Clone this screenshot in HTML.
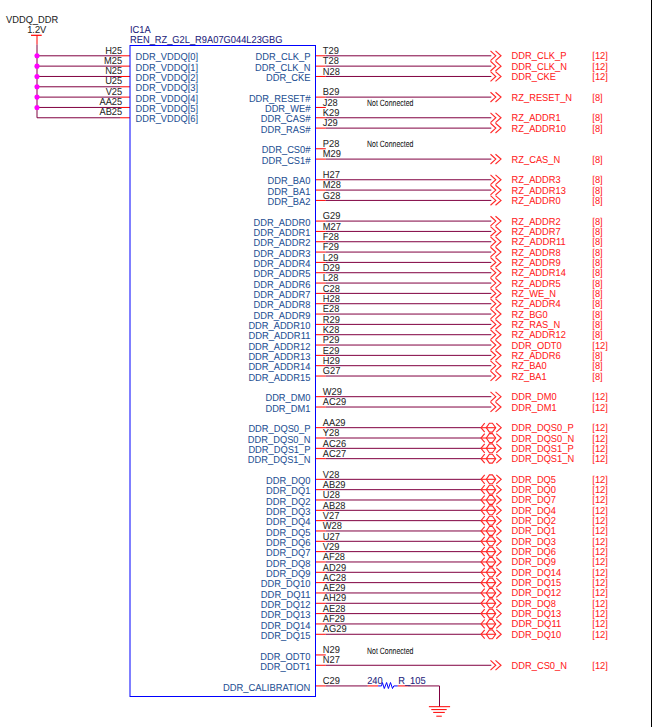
<!DOCTYPE html>
<html><head><meta charset="utf-8"><style>
html,body{margin:0;padding:0;background:#fff;width:652px;height:727px;overflow:hidden}
svg{display:block}
text{font-family:"Liberation Sans",sans-serif;text-rendering:geometricPrecision;stroke-width:0.05px}
.t{font-family:"Liberation Sans",sans-serif;font-size:9.3px}
.e{text-anchor:end}
.nc{font-family:"Liberation Sans",sans-serif;font-size:9.1px}
.pt{fill:none;stroke:#ff2a2a;stroke-width:1.15}
</style></head><body>
<svg width="652" height="727" viewBox="0 0 652 727">
<text x="6.00" y="22.60" font-size="10.1" fill="#222" stroke="#222" textLength="52.19" lengthAdjust="spacingAndGlyphs">VDDQ_DDR</text>
<text x="27.20" y="33.00" font-size="10.1" fill="#222" stroke="#222" textLength="19.13" lengthAdjust="spacingAndGlyphs">1.2V</text>
<text x="130.00" y="32.60" font-size="10.1" fill="#22227a" stroke="#22227a" textLength="20.68" lengthAdjust="spacingAndGlyphs">IC1A</text>
<text x="130.00" y="42.70" font-size="10.1" fill="#22227a" stroke="#22227a" textLength="152.50" lengthAdjust="spacingAndGlyphs">REN_RZ_G2L_R9A07G044L23GBG</text>
<line x1="31" y1="35.3" x2="41.7" y2="35.3" stroke="#ff0000" stroke-width="1.2"/>
<line x1="37.0" y1="35.3" x2="37.0" y2="44.5" stroke="#ff0000" stroke-width="1"/>
<line x1="37.0" y1="44.5" x2="37.0" y2="117.78" stroke="#800040" stroke-width="1"/>
<line x1="37.0" y1="55.80" x2="120" y2="55.80" stroke="#800040" stroke-width="1"/>
<line x1="120" y1="55.80" x2="130.0" y2="55.80" stroke="#ff0000" stroke-width="1"/>
<text x="122.20" y="53.50" font-size="10.1" fill="#262626" stroke="#262626" text-anchor="end" textLength="17.06" lengthAdjust="spacingAndGlyphs">H25</text>
<text x="135.50" y="60.30" font-size="10.1" fill="#1d4f93" stroke="#1d4f93" textLength="62.53" lengthAdjust="spacingAndGlyphs">DDR_VDDQ[0]</text>
<circle cx="37.0" cy="55.80" r="2.55" fill="#ff00ff"/>
<line x1="37.0" y1="66.13" x2="120" y2="66.13" stroke="#800040" stroke-width="1"/>
<line x1="120" y1="66.13" x2="130.0" y2="66.13" stroke="#ff0000" stroke-width="1"/>
<text x="122.20" y="63.83" font-size="10.1" fill="#262626" stroke="#262626" text-anchor="end" textLength="18.09" lengthAdjust="spacingAndGlyphs">M25</text>
<text x="135.50" y="70.63" font-size="10.1" fill="#1d4f93" stroke="#1d4f93" textLength="62.53" lengthAdjust="spacingAndGlyphs">DDR_VDDQ[1]</text>
<circle cx="37.0" cy="66.13" r="2.55" fill="#ff00ff"/>
<line x1="37.0" y1="76.46" x2="120" y2="76.46" stroke="#800040" stroke-width="1"/>
<line x1="120" y1="76.46" x2="130.0" y2="76.46" stroke="#ff0000" stroke-width="1"/>
<text x="122.20" y="74.16" font-size="10.1" fill="#262626" stroke="#262626" text-anchor="end" textLength="17.06" lengthAdjust="spacingAndGlyphs">N25</text>
<text x="135.50" y="80.96" font-size="10.1" fill="#1d4f93" stroke="#1d4f93" textLength="62.53" lengthAdjust="spacingAndGlyphs">DDR_VDDQ[2]</text>
<circle cx="37.0" cy="76.46" r="2.55" fill="#ff00ff"/>
<line x1="37.0" y1="86.79" x2="120" y2="86.79" stroke="#800040" stroke-width="1"/>
<line x1="120" y1="86.79" x2="130.0" y2="86.79" stroke="#ff0000" stroke-width="1"/>
<text x="122.20" y="84.49" font-size="10.1" fill="#262626" stroke="#262626" text-anchor="end" textLength="17.06" lengthAdjust="spacingAndGlyphs">U25</text>
<text x="135.50" y="91.29" font-size="10.1" fill="#1d4f93" stroke="#1d4f93" textLength="62.53" lengthAdjust="spacingAndGlyphs">DDR_VDDQ[3]</text>
<circle cx="37.0" cy="86.79" r="2.55" fill="#ff00ff"/>
<line x1="37.0" y1="97.12" x2="120" y2="97.12" stroke="#800040" stroke-width="1"/>
<line x1="120" y1="97.12" x2="130.0" y2="97.12" stroke="#ff0000" stroke-width="1"/>
<text x="122.20" y="94.82" font-size="10.1" fill="#262626" stroke="#262626" text-anchor="end" textLength="16.55" lengthAdjust="spacingAndGlyphs">V25</text>
<text x="135.50" y="101.62" font-size="10.1" fill="#1d4f93" stroke="#1d4f93" textLength="62.53" lengthAdjust="spacingAndGlyphs">DDR_VDDQ[4]</text>
<circle cx="37.0" cy="97.12" r="2.55" fill="#ff00ff"/>
<line x1="37.0" y1="107.45" x2="120" y2="107.45" stroke="#800040" stroke-width="1"/>
<line x1="120" y1="107.45" x2="130.0" y2="107.45" stroke="#ff0000" stroke-width="1"/>
<text x="122.20" y="105.15" font-size="10.1" fill="#262626" stroke="#262626" text-anchor="end" textLength="22.75" lengthAdjust="spacingAndGlyphs">AA25</text>
<text x="135.50" y="111.95" font-size="10.1" fill="#1d4f93" stroke="#1d4f93" textLength="62.53" lengthAdjust="spacingAndGlyphs">DDR_VDDQ[5]</text>
<circle cx="37.0" cy="107.45" r="2.55" fill="#ff00ff"/>
<line x1="37.0" y1="117.78" x2="120" y2="117.78" stroke="#800040" stroke-width="1"/>
<line x1="120" y1="117.78" x2="130.0" y2="117.78" stroke="#ff0000" stroke-width="1"/>
<text x="122.20" y="115.48" font-size="10.1" fill="#262626" stroke="#262626" text-anchor="end" textLength="22.75" lengthAdjust="spacingAndGlyphs">AB25</text>
<text x="135.50" y="122.28" font-size="10.1" fill="#1d4f93" stroke="#1d4f93" textLength="62.53" lengthAdjust="spacingAndGlyphs">DDR_VDDQ[6]</text>
<text x="310.40" y="60.40" font-size="10.1" fill="#1d4f93" stroke="#1d4f93" text-anchor="end" textLength="54.79" lengthAdjust="spacingAndGlyphs">DDR_CLK_P</text>
<text x="322.80" y="54.00" font-size="10.1" fill="#262626" stroke="#262626" textLength="16.03" lengthAdjust="spacingAndGlyphs">T29</text>
<line x1="315.5" y1="55.80" x2="325.8" y2="55.80" stroke="#ff0000" stroke-width="1"/>
<line x1="325.8" y1="55.80" x2="491.3" y2="55.80" stroke="#800040" stroke-width="1"/>
<polyline points="490.5,50.93 495.8,55.80 490.5,60.66" class="pt"/>
<polyline points="495.5,50.93 501,55.80 495.5,60.66" class="pt"/>
<text x="511.60" y="59.30" font-size="10.1" fill="#ff2020" stroke="#ff2020" textLength="54.79" lengthAdjust="spacingAndGlyphs">DDR_CLK_P</text>
<text x="592.30" y="59.30" font-size="10.1" fill="#ff2020" stroke="#ff2020" textLength="15.51" lengthAdjust="spacingAndGlyphs">[12]</text>
<text x="310.40" y="70.73" font-size="10.1" fill="#1d4f93" stroke="#1d4f93" text-anchor="end" textLength="55.30" lengthAdjust="spacingAndGlyphs">DDR_CLK_N</text>
<text x="322.80" y="64.33" font-size="10.1" fill="#262626" stroke="#262626" textLength="16.03" lengthAdjust="spacingAndGlyphs">T28</text>
<line x1="315.5" y1="66.13" x2="325.8" y2="66.13" stroke="#ff0000" stroke-width="1"/>
<line x1="325.8" y1="66.13" x2="491.3" y2="66.13" stroke="#800040" stroke-width="1"/>
<polyline points="490.5,61.26 495.8,66.13 490.5,71.00" class="pt"/>
<polyline points="495.5,61.26 501,66.13 495.5,71.00" class="pt"/>
<text x="511.60" y="69.63" font-size="10.1" fill="#ff2020" stroke="#ff2020" textLength="55.30" lengthAdjust="spacingAndGlyphs">DDR_CLK_N</text>
<text x="592.30" y="69.63" font-size="10.1" fill="#ff2020" stroke="#ff2020" textLength="15.51" lengthAdjust="spacingAndGlyphs">[12]</text>
<text x="310.40" y="81.06" font-size="10.1" fill="#1d4f93" stroke="#1d4f93" text-anchor="end" textLength="44.44" lengthAdjust="spacingAndGlyphs">DDR_CKE</text>
<text x="322.80" y="74.66" font-size="10.1" fill="#262626" stroke="#262626" textLength="17.06" lengthAdjust="spacingAndGlyphs">N28</text>
<line x1="315.5" y1="76.46" x2="325.8" y2="76.46" stroke="#ff0000" stroke-width="1"/>
<line x1="325.8" y1="76.46" x2="491.3" y2="76.46" stroke="#800040" stroke-width="1"/>
<polyline points="490.5,71.59 495.8,76.46 490.5,81.33" class="pt"/>
<polyline points="495.5,71.59 501,76.46 495.5,81.33" class="pt"/>
<text x="511.60" y="79.96" font-size="10.1" fill="#ff2020" stroke="#ff2020" textLength="44.44" lengthAdjust="spacingAndGlyphs">DDR_CKE</text>
<text x="592.30" y="79.96" font-size="10.1" fill="#ff2020" stroke="#ff2020" textLength="15.51" lengthAdjust="spacingAndGlyphs">[12]</text>
<text x="310.40" y="101.72" font-size="10.1" fill="#1d4f93" stroke="#1d4f93" text-anchor="end" textLength="61.50" lengthAdjust="spacingAndGlyphs">DDR_RESET#</text>
<text x="322.80" y="95.32" font-size="10.1" fill="#262626" stroke="#262626" textLength="16.55" lengthAdjust="spacingAndGlyphs">B29</text>
<line x1="315.5" y1="97.12" x2="325.8" y2="97.12" stroke="#ff0000" stroke-width="1"/>
<line x1="325.8" y1="97.12" x2="491.3" y2="97.12" stroke="#800040" stroke-width="1"/>
<polyline points="490.5,92.25 495.8,97.12 490.5,101.99" class="pt"/>
<polyline points="495.5,92.25 501,97.12 495.5,101.99" class="pt"/>
<text x="511.60" y="100.62" font-size="10.1" fill="#ff2020" stroke="#ff2020" textLength="60.46" lengthAdjust="spacingAndGlyphs">RZ_RESET_N</text>
<text x="592.30" y="100.62" font-size="10.1" fill="#ff2020" stroke="#ff2020" textLength="10.34" lengthAdjust="spacingAndGlyphs">[8]</text>
<text x="310.40" y="112.05" font-size="10.1" fill="#1d4f93" stroke="#1d4f93" text-anchor="end" textLength="45.47" lengthAdjust="spacingAndGlyphs">DDR_WE#</text>
<text x="322.80" y="105.65" font-size="10.1" fill="#262626" stroke="#262626" textLength="14.99" lengthAdjust="spacingAndGlyphs">J28</text>
<line x1="315.5" y1="107.45" x2="325.8" y2="107.45" stroke="#ff0000" stroke-width="1"/>
<text x="367.1" y="106.05" class="nc" fill="#111" stroke="#111" stroke-width="0.22" textLength="46.3" lengthAdjust="spacingAndGlyphs">Not Connected</text>
<text x="310.40" y="122.38" font-size="10.1" fill="#1d4f93" stroke="#1d4f93" text-anchor="end" textLength="49.62" lengthAdjust="spacingAndGlyphs">DDR_CAS#</text>
<text x="322.80" y="115.98" font-size="10.1" fill="#262626" stroke="#262626" textLength="16.55" lengthAdjust="spacingAndGlyphs">K29</text>
<line x1="315.5" y1="117.78" x2="325.8" y2="117.78" stroke="#ff0000" stroke-width="1"/>
<line x1="325.8" y1="117.78" x2="491.3" y2="117.78" stroke="#800040" stroke-width="1"/>
<polyline points="490.5,112.91 495.8,117.78 490.5,122.65" class="pt"/>
<polyline points="495.5,112.91 501,117.78 495.5,122.65" class="pt"/>
<text x="511.60" y="121.28" font-size="10.1" fill="#ff2020" stroke="#ff2020" textLength="49.09" lengthAdjust="spacingAndGlyphs">RZ_ADDR1</text>
<text x="592.30" y="121.28" font-size="10.1" fill="#ff2020" stroke="#ff2020" textLength="10.34" lengthAdjust="spacingAndGlyphs">[8]</text>
<text x="310.40" y="132.71" font-size="10.1" fill="#1d4f93" stroke="#1d4f93" text-anchor="end" textLength="49.62" lengthAdjust="spacingAndGlyphs">DDR_RAS#</text>
<text x="322.80" y="126.31" font-size="10.1" fill="#262626" stroke="#262626" textLength="14.99" lengthAdjust="spacingAndGlyphs">J29</text>
<line x1="315.5" y1="128.11" x2="325.8" y2="128.11" stroke="#ff0000" stroke-width="1"/>
<line x1="325.8" y1="128.11" x2="491.3" y2="128.11" stroke="#800040" stroke-width="1"/>
<polyline points="490.5,123.25 495.8,128.11 490.5,132.97" class="pt"/>
<polyline points="495.5,123.25 501,128.11 495.5,132.97" class="pt"/>
<text x="511.60" y="131.61" font-size="10.1" fill="#ff2020" stroke="#ff2020" textLength="54.27" lengthAdjust="spacingAndGlyphs">RZ_ADDR10</text>
<text x="592.30" y="131.61" font-size="10.1" fill="#ff2020" stroke="#ff2020" textLength="10.34" lengthAdjust="spacingAndGlyphs">[8]</text>
<text x="310.40" y="153.37" font-size="10.1" fill="#1d4f93" stroke="#1d4f93" text-anchor="end" textLength="48.58" lengthAdjust="spacingAndGlyphs">DDR_CS0#</text>
<text x="322.80" y="146.97" font-size="10.1" fill="#262626" stroke="#262626" textLength="16.55" lengthAdjust="spacingAndGlyphs">P28</text>
<line x1="315.5" y1="148.77" x2="325.8" y2="148.77" stroke="#ff0000" stroke-width="1"/>
<text x="367.1" y="147.37" class="nc" fill="#111" stroke="#111" stroke-width="0.22" textLength="46.3" lengthAdjust="spacingAndGlyphs">Not Connected</text>
<text x="310.40" y="163.70" font-size="10.1" fill="#1d4f93" stroke="#1d4f93" text-anchor="end" textLength="48.58" lengthAdjust="spacingAndGlyphs">DDR_CS1#</text>
<text x="322.80" y="157.30" font-size="10.1" fill="#262626" stroke="#262626" textLength="18.09" lengthAdjust="spacingAndGlyphs">M29</text>
<line x1="315.5" y1="159.10" x2="325.8" y2="159.10" stroke="#ff0000" stroke-width="1"/>
<line x1="325.8" y1="159.10" x2="491.3" y2="159.10" stroke="#800040" stroke-width="1"/>
<polyline points="490.5,154.24 495.8,159.10 490.5,163.96" class="pt"/>
<polyline points="495.5,154.24 501,159.10 495.5,163.96" class="pt"/>
<text x="511.60" y="162.60" font-size="10.1" fill="#ff2020" stroke="#ff2020" textLength="48.58" lengthAdjust="spacingAndGlyphs">RZ_CAS_N</text>
<text x="592.30" y="162.60" font-size="10.1" fill="#ff2020" stroke="#ff2020" textLength="10.34" lengthAdjust="spacingAndGlyphs">[8]</text>
<text x="310.40" y="184.36" font-size="10.1" fill="#1d4f93" stroke="#1d4f93" text-anchor="end" textLength="42.90" lengthAdjust="spacingAndGlyphs">DDR_BA0</text>
<text x="322.80" y="177.96" font-size="10.1" fill="#262626" stroke="#262626" textLength="17.06" lengthAdjust="spacingAndGlyphs">H27</text>
<line x1="315.5" y1="179.76" x2="325.8" y2="179.76" stroke="#ff0000" stroke-width="1"/>
<line x1="325.8" y1="179.76" x2="491.3" y2="179.76" stroke="#800040" stroke-width="1"/>
<polyline points="490.5,174.90 495.8,179.76 490.5,184.62" class="pt"/>
<polyline points="495.5,174.90 501,179.76 495.5,184.62" class="pt"/>
<text x="511.60" y="183.26" font-size="10.1" fill="#ff2020" stroke="#ff2020" textLength="49.09" lengthAdjust="spacingAndGlyphs">RZ_ADDR3</text>
<text x="592.30" y="183.26" font-size="10.1" fill="#ff2020" stroke="#ff2020" textLength="10.34" lengthAdjust="spacingAndGlyphs">[8]</text>
<text x="310.40" y="194.69" font-size="10.1" fill="#1d4f93" stroke="#1d4f93" text-anchor="end" textLength="42.90" lengthAdjust="spacingAndGlyphs">DDR_BA1</text>
<text x="322.80" y="188.29" font-size="10.1" fill="#262626" stroke="#262626" textLength="18.09" lengthAdjust="spacingAndGlyphs">M28</text>
<line x1="315.5" y1="190.09" x2="325.8" y2="190.09" stroke="#ff0000" stroke-width="1"/>
<line x1="325.8" y1="190.09" x2="491.3" y2="190.09" stroke="#800040" stroke-width="1"/>
<polyline points="490.5,185.22 495.8,190.09 490.5,194.95" class="pt"/>
<polyline points="495.5,185.22 501,190.09 495.5,194.95" class="pt"/>
<text x="511.60" y="193.59" font-size="10.1" fill="#ff2020" stroke="#ff2020" textLength="54.27" lengthAdjust="spacingAndGlyphs">RZ_ADDR13</text>
<text x="592.30" y="193.59" font-size="10.1" fill="#ff2020" stroke="#ff2020" textLength="10.34" lengthAdjust="spacingAndGlyphs">[8]</text>
<text x="310.40" y="205.02" font-size="10.1" fill="#1d4f93" stroke="#1d4f93" text-anchor="end" textLength="42.90" lengthAdjust="spacingAndGlyphs">DDR_BA2</text>
<text x="322.80" y="198.62" font-size="10.1" fill="#262626" stroke="#262626" textLength="17.58" lengthAdjust="spacingAndGlyphs">G28</text>
<line x1="315.5" y1="200.42" x2="325.8" y2="200.42" stroke="#ff0000" stroke-width="1"/>
<line x1="325.8" y1="200.42" x2="491.3" y2="200.42" stroke="#800040" stroke-width="1"/>
<polyline points="490.5,195.56 495.8,200.42 490.5,205.28" class="pt"/>
<polyline points="495.5,195.56 501,200.42 495.5,205.28" class="pt"/>
<text x="511.60" y="203.92" font-size="10.1" fill="#ff2020" stroke="#ff2020" textLength="49.09" lengthAdjust="spacingAndGlyphs">RZ_ADDR0</text>
<text x="592.30" y="203.92" font-size="10.1" fill="#ff2020" stroke="#ff2020" textLength="10.34" lengthAdjust="spacingAndGlyphs">[8]</text>
<text x="310.40" y="225.68" font-size="10.1" fill="#1d4f93" stroke="#1d4f93" text-anchor="end" textLength="56.84" lengthAdjust="spacingAndGlyphs">DDR_ADDR0</text>
<text x="322.80" y="219.28" font-size="10.1" fill="#262626" stroke="#262626" textLength="17.58" lengthAdjust="spacingAndGlyphs">G29</text>
<line x1="315.5" y1="221.08" x2="325.8" y2="221.08" stroke="#ff0000" stroke-width="1"/>
<line x1="325.8" y1="221.08" x2="491.3" y2="221.08" stroke="#800040" stroke-width="1"/>
<polyline points="490.5,216.22 495.8,221.08 490.5,225.94" class="pt"/>
<polyline points="495.5,216.22 501,221.08 495.5,225.94" class="pt"/>
<text x="511.60" y="224.58" font-size="10.1" fill="#ff2020" stroke="#ff2020" textLength="49.09" lengthAdjust="spacingAndGlyphs">RZ_ADDR2</text>
<text x="592.30" y="224.58" font-size="10.1" fill="#ff2020" stroke="#ff2020" textLength="10.34" lengthAdjust="spacingAndGlyphs">[8]</text>
<text x="310.40" y="236.01" font-size="10.1" fill="#1d4f93" stroke="#1d4f93" text-anchor="end" textLength="56.84" lengthAdjust="spacingAndGlyphs">DDR_ADDR1</text>
<text x="322.80" y="229.61" font-size="10.1" fill="#262626" stroke="#262626" textLength="18.09" lengthAdjust="spacingAndGlyphs">M27</text>
<line x1="315.5" y1="231.41" x2="325.8" y2="231.41" stroke="#ff0000" stroke-width="1"/>
<line x1="325.8" y1="231.41" x2="491.3" y2="231.41" stroke="#800040" stroke-width="1"/>
<polyline points="490.5,226.55 495.8,231.41 490.5,236.28" class="pt"/>
<polyline points="495.5,226.55 501,231.41 495.5,236.28" class="pt"/>
<text x="511.60" y="234.91" font-size="10.1" fill="#ff2020" stroke="#ff2020" textLength="49.09" lengthAdjust="spacingAndGlyphs">RZ_ADDR7</text>
<text x="592.30" y="234.91" font-size="10.1" fill="#ff2020" stroke="#ff2020" textLength="10.34" lengthAdjust="spacingAndGlyphs">[8]</text>
<text x="310.40" y="246.34" font-size="10.1" fill="#1d4f93" stroke="#1d4f93" text-anchor="end" textLength="56.84" lengthAdjust="spacingAndGlyphs">DDR_ADDR2</text>
<text x="322.80" y="239.94" font-size="10.1" fill="#262626" stroke="#262626" textLength="16.03" lengthAdjust="spacingAndGlyphs">F28</text>
<line x1="315.5" y1="241.74" x2="325.8" y2="241.74" stroke="#ff0000" stroke-width="1"/>
<line x1="325.8" y1="241.74" x2="491.3" y2="241.74" stroke="#800040" stroke-width="1"/>
<polyline points="490.5,236.88 495.8,241.74 490.5,246.60" class="pt"/>
<polyline points="495.5,236.88 501,241.74 495.5,246.60" class="pt"/>
<text x="511.60" y="245.24" font-size="10.1" fill="#ff2020" stroke="#ff2020" textLength="54.27" lengthAdjust="spacingAndGlyphs">RZ_ADDR11</text>
<text x="592.30" y="245.24" font-size="10.1" fill="#ff2020" stroke="#ff2020" textLength="10.34" lengthAdjust="spacingAndGlyphs">[8]</text>
<text x="310.40" y="256.67" font-size="10.1" fill="#1d4f93" stroke="#1d4f93" text-anchor="end" textLength="56.84" lengthAdjust="spacingAndGlyphs">DDR_ADDR3</text>
<text x="322.80" y="250.27" font-size="10.1" fill="#262626" stroke="#262626" textLength="16.03" lengthAdjust="spacingAndGlyphs">F29</text>
<line x1="315.5" y1="252.07" x2="325.8" y2="252.07" stroke="#ff0000" stroke-width="1"/>
<line x1="325.8" y1="252.07" x2="491.3" y2="252.07" stroke="#800040" stroke-width="1"/>
<polyline points="490.5,247.21 495.8,252.07 490.5,256.94" class="pt"/>
<polyline points="495.5,247.21 501,252.07 495.5,256.94" class="pt"/>
<text x="511.60" y="255.57" font-size="10.1" fill="#ff2020" stroke="#ff2020" textLength="49.09" lengthAdjust="spacingAndGlyphs">RZ_ADDR8</text>
<text x="592.30" y="255.57" font-size="10.1" fill="#ff2020" stroke="#ff2020" textLength="10.34" lengthAdjust="spacingAndGlyphs">[8]</text>
<text x="310.40" y="267.00" font-size="10.1" fill="#1d4f93" stroke="#1d4f93" text-anchor="end" textLength="56.84" lengthAdjust="spacingAndGlyphs">DDR_ADDR4</text>
<text x="322.80" y="260.60" font-size="10.1" fill="#262626" stroke="#262626" textLength="15.52" lengthAdjust="spacingAndGlyphs">L29</text>
<line x1="315.5" y1="262.40" x2="325.8" y2="262.40" stroke="#ff0000" stroke-width="1"/>
<line x1="325.8" y1="262.40" x2="491.3" y2="262.40" stroke="#800040" stroke-width="1"/>
<polyline points="490.5,257.53 495.8,262.40 490.5,267.26" class="pt"/>
<polyline points="495.5,257.53 501,262.40 495.5,267.26" class="pt"/>
<text x="511.60" y="265.90" font-size="10.1" fill="#ff2020" stroke="#ff2020" textLength="49.09" lengthAdjust="spacingAndGlyphs">RZ_ADDR9</text>
<text x="592.30" y="265.90" font-size="10.1" fill="#ff2020" stroke="#ff2020" textLength="10.34" lengthAdjust="spacingAndGlyphs">[8]</text>
<text x="310.40" y="277.33" font-size="10.1" fill="#1d4f93" stroke="#1d4f93" text-anchor="end" textLength="56.84" lengthAdjust="spacingAndGlyphs">DDR_ADDR5</text>
<text x="322.80" y="270.93" font-size="10.1" fill="#262626" stroke="#262626" textLength="17.06" lengthAdjust="spacingAndGlyphs">D29</text>
<line x1="315.5" y1="272.73" x2="325.8" y2="272.73" stroke="#ff0000" stroke-width="1"/>
<line x1="325.8" y1="272.73" x2="491.3" y2="272.73" stroke="#800040" stroke-width="1"/>
<polyline points="490.5,267.87 495.8,272.73 490.5,277.60" class="pt"/>
<polyline points="495.5,267.87 501,272.73 495.5,277.60" class="pt"/>
<text x="511.60" y="276.23" font-size="10.1" fill="#ff2020" stroke="#ff2020" textLength="54.27" lengthAdjust="spacingAndGlyphs">RZ_ADDR14</text>
<text x="592.30" y="276.23" font-size="10.1" fill="#ff2020" stroke="#ff2020" textLength="10.34" lengthAdjust="spacingAndGlyphs">[8]</text>
<text x="310.40" y="287.66" font-size="10.1" fill="#1d4f93" stroke="#1d4f93" text-anchor="end" textLength="56.84" lengthAdjust="spacingAndGlyphs">DDR_ADDR6</text>
<text x="322.80" y="281.26" font-size="10.1" fill="#262626" stroke="#262626" textLength="15.52" lengthAdjust="spacingAndGlyphs">L28</text>
<line x1="315.5" y1="283.06" x2="325.8" y2="283.06" stroke="#ff0000" stroke-width="1"/>
<line x1="325.8" y1="283.06" x2="491.3" y2="283.06" stroke="#800040" stroke-width="1"/>
<polyline points="490.5,278.19 495.8,283.06 490.5,287.93" class="pt"/>
<polyline points="495.5,278.19 501,283.06 495.5,287.93" class="pt"/>
<text x="511.60" y="286.56" font-size="10.1" fill="#ff2020" stroke="#ff2020" textLength="49.09" lengthAdjust="spacingAndGlyphs">RZ_ADDR5</text>
<text x="592.30" y="286.56" font-size="10.1" fill="#ff2020" stroke="#ff2020" textLength="10.34" lengthAdjust="spacingAndGlyphs">[8]</text>
<text x="310.40" y="297.99" font-size="10.1" fill="#1d4f93" stroke="#1d4f93" text-anchor="end" textLength="56.84" lengthAdjust="spacingAndGlyphs">DDR_ADDR7</text>
<text x="322.80" y="291.59" font-size="10.1" fill="#262626" stroke="#262626" textLength="17.06" lengthAdjust="spacingAndGlyphs">C28</text>
<line x1="315.5" y1="293.39" x2="325.8" y2="293.39" stroke="#ff0000" stroke-width="1"/>
<line x1="325.8" y1="293.39" x2="491.3" y2="293.39" stroke="#800040" stroke-width="1"/>
<polyline points="490.5,288.52 495.8,293.39 490.5,298.25" class="pt"/>
<polyline points="495.5,288.52 501,293.39 495.5,298.25" class="pt"/>
<text x="511.60" y="296.89" font-size="10.1" fill="#ff2020" stroke="#ff2020" textLength="44.44" lengthAdjust="spacingAndGlyphs">RZ_WE_N</text>
<text x="592.30" y="296.89" font-size="10.1" fill="#ff2020" stroke="#ff2020" textLength="10.34" lengthAdjust="spacingAndGlyphs">[8]</text>
<text x="310.40" y="308.32" font-size="10.1" fill="#1d4f93" stroke="#1d4f93" text-anchor="end" textLength="56.84" lengthAdjust="spacingAndGlyphs">DDR_ADDR8</text>
<text x="322.80" y="301.92" font-size="10.1" fill="#262626" stroke="#262626" textLength="17.06" lengthAdjust="spacingAndGlyphs">H28</text>
<line x1="315.5" y1="303.72" x2="325.8" y2="303.72" stroke="#ff0000" stroke-width="1"/>
<line x1="325.8" y1="303.72" x2="491.3" y2="303.72" stroke="#800040" stroke-width="1"/>
<polyline points="490.5,298.86 495.8,303.72 490.5,308.59" class="pt"/>
<polyline points="495.5,298.86 501,303.72 495.5,308.59" class="pt"/>
<text x="511.60" y="307.22" font-size="10.1" fill="#ff2020" stroke="#ff2020" textLength="49.09" lengthAdjust="spacingAndGlyphs">RZ_ADDR4</text>
<text x="592.30" y="307.22" font-size="10.1" fill="#ff2020" stroke="#ff2020" textLength="10.34" lengthAdjust="spacingAndGlyphs">[8]</text>
<text x="310.40" y="318.65" font-size="10.1" fill="#1d4f93" stroke="#1d4f93" text-anchor="end" textLength="56.84" lengthAdjust="spacingAndGlyphs">DDR_ADDR9</text>
<text x="322.80" y="312.25" font-size="10.1" fill="#262626" stroke="#262626" textLength="16.55" lengthAdjust="spacingAndGlyphs">E28</text>
<line x1="315.5" y1="314.05" x2="325.8" y2="314.05" stroke="#ff0000" stroke-width="1"/>
<line x1="325.8" y1="314.05" x2="491.3" y2="314.05" stroke="#800040" stroke-width="1"/>
<polyline points="490.5,309.19 495.8,314.05 490.5,318.92" class="pt"/>
<polyline points="495.5,309.19 501,314.05 495.5,318.92" class="pt"/>
<text x="511.60" y="317.55" font-size="10.1" fill="#ff2020" stroke="#ff2020" textLength="36.18" lengthAdjust="spacingAndGlyphs">RZ_BG0</text>
<text x="592.30" y="317.55" font-size="10.1" fill="#ff2020" stroke="#ff2020" textLength="10.34" lengthAdjust="spacingAndGlyphs">[8]</text>
<text x="310.40" y="328.98" font-size="10.1" fill="#1d4f93" stroke="#1d4f93" text-anchor="end" textLength="62.02" lengthAdjust="spacingAndGlyphs">DDR_ADDR10</text>
<text x="322.80" y="322.58" font-size="10.1" fill="#262626" stroke="#262626" textLength="17.06" lengthAdjust="spacingAndGlyphs">R29</text>
<line x1="315.5" y1="324.38" x2="325.8" y2="324.38" stroke="#ff0000" stroke-width="1"/>
<line x1="325.8" y1="324.38" x2="491.3" y2="324.38" stroke="#800040" stroke-width="1"/>
<polyline points="490.5,319.51 495.8,324.38 490.5,329.25" class="pt"/>
<polyline points="495.5,319.51 501,324.38 495.5,329.25" class="pt"/>
<text x="511.60" y="327.88" font-size="10.1" fill="#ff2020" stroke="#ff2020" textLength="48.58" lengthAdjust="spacingAndGlyphs">RZ_RAS_N</text>
<text x="592.30" y="327.88" font-size="10.1" fill="#ff2020" stroke="#ff2020" textLength="10.34" lengthAdjust="spacingAndGlyphs">[8]</text>
<text x="310.40" y="339.31" font-size="10.1" fill="#1d4f93" stroke="#1d4f93" text-anchor="end" textLength="62.02" lengthAdjust="spacingAndGlyphs">DDR_ADDR11</text>
<text x="322.80" y="332.91" font-size="10.1" fill="#262626" stroke="#262626" textLength="16.55" lengthAdjust="spacingAndGlyphs">K28</text>
<line x1="315.5" y1="334.71" x2="325.8" y2="334.71" stroke="#ff0000" stroke-width="1"/>
<line x1="325.8" y1="334.71" x2="491.3" y2="334.71" stroke="#800040" stroke-width="1"/>
<polyline points="490.5,329.85 495.8,334.71 490.5,339.58" class="pt"/>
<polyline points="495.5,329.85 501,334.71 495.5,339.58" class="pt"/>
<text x="511.60" y="338.21" font-size="10.1" fill="#ff2020" stroke="#ff2020" textLength="54.27" lengthAdjust="spacingAndGlyphs">RZ_ADDR12</text>
<text x="592.30" y="338.21" font-size="10.1" fill="#ff2020" stroke="#ff2020" textLength="10.34" lengthAdjust="spacingAndGlyphs">[8]</text>
<text x="310.40" y="349.64" font-size="10.1" fill="#1d4f93" stroke="#1d4f93" text-anchor="end" textLength="62.02" lengthAdjust="spacingAndGlyphs">DDR_ADDR12</text>
<text x="322.80" y="343.24" font-size="10.1" fill="#262626" stroke="#262626" textLength="16.55" lengthAdjust="spacingAndGlyphs">P29</text>
<line x1="315.5" y1="345.04" x2="325.8" y2="345.04" stroke="#ff0000" stroke-width="1"/>
<line x1="325.8" y1="345.04" x2="491.3" y2="345.04" stroke="#800040" stroke-width="1"/>
<polyline points="490.5,340.18 495.8,345.04 490.5,349.91" class="pt"/>
<polyline points="495.5,340.18 501,345.04 495.5,349.91" class="pt"/>
<text x="511.60" y="348.54" font-size="10.1" fill="#ff2020" stroke="#ff2020" textLength="50.12" lengthAdjust="spacingAndGlyphs">DDR_ODT0</text>
<text x="592.30" y="348.54" font-size="10.1" fill="#ff2020" stroke="#ff2020" textLength="15.51" lengthAdjust="spacingAndGlyphs">[12]</text>
<text x="310.40" y="359.97" font-size="10.1" fill="#1d4f93" stroke="#1d4f93" text-anchor="end" textLength="62.02" lengthAdjust="spacingAndGlyphs">DDR_ADDR13</text>
<text x="322.80" y="353.57" font-size="10.1" fill="#262626" stroke="#262626" textLength="16.55" lengthAdjust="spacingAndGlyphs">E29</text>
<line x1="315.5" y1="355.37" x2="325.8" y2="355.37" stroke="#ff0000" stroke-width="1"/>
<line x1="325.8" y1="355.37" x2="491.3" y2="355.37" stroke="#800040" stroke-width="1"/>
<polyline points="490.5,350.50 495.8,355.37 490.5,360.24" class="pt"/>
<polyline points="495.5,350.50 501,355.37 495.5,360.24" class="pt"/>
<text x="511.60" y="358.87" font-size="10.1" fill="#ff2020" stroke="#ff2020" textLength="49.09" lengthAdjust="spacingAndGlyphs">RZ_ADDR6</text>
<text x="592.30" y="358.87" font-size="10.1" fill="#ff2020" stroke="#ff2020" textLength="10.34" lengthAdjust="spacingAndGlyphs">[8]</text>
<text x="310.40" y="370.30" font-size="10.1" fill="#1d4f93" stroke="#1d4f93" text-anchor="end" textLength="62.02" lengthAdjust="spacingAndGlyphs">DDR_ADDR14</text>
<text x="322.80" y="363.90" font-size="10.1" fill="#262626" stroke="#262626" textLength="17.06" lengthAdjust="spacingAndGlyphs">H29</text>
<line x1="315.5" y1="365.70" x2="325.8" y2="365.70" stroke="#ff0000" stroke-width="1"/>
<line x1="325.8" y1="365.70" x2="491.3" y2="365.70" stroke="#800040" stroke-width="1"/>
<polyline points="490.5,360.83 495.8,365.70 490.5,370.56" class="pt"/>
<polyline points="495.5,360.83 501,365.70 495.5,370.56" class="pt"/>
<text x="511.60" y="369.20" font-size="10.1" fill="#ff2020" stroke="#ff2020" textLength="35.15" lengthAdjust="spacingAndGlyphs">RZ_BA0</text>
<text x="592.30" y="369.20" font-size="10.1" fill="#ff2020" stroke="#ff2020" textLength="10.34" lengthAdjust="spacingAndGlyphs">[8]</text>
<text x="310.40" y="380.63" font-size="10.1" fill="#1d4f93" stroke="#1d4f93" text-anchor="end" textLength="62.02" lengthAdjust="spacingAndGlyphs">DDR_ADDR15</text>
<text x="322.80" y="374.23" font-size="10.1" fill="#262626" stroke="#262626" textLength="17.58" lengthAdjust="spacingAndGlyphs">G27</text>
<line x1="315.5" y1="376.03" x2="325.8" y2="376.03" stroke="#ff0000" stroke-width="1"/>
<line x1="325.8" y1="376.03" x2="491.3" y2="376.03" stroke="#800040" stroke-width="1"/>
<polyline points="490.5,371.17 495.8,376.03 490.5,380.90" class="pt"/>
<polyline points="495.5,371.17 501,376.03 495.5,380.90" class="pt"/>
<text x="511.60" y="379.53" font-size="10.1" fill="#ff2020" stroke="#ff2020" textLength="35.15" lengthAdjust="spacingAndGlyphs">RZ_BA1</text>
<text x="592.30" y="379.53" font-size="10.1" fill="#ff2020" stroke="#ff2020" textLength="10.34" lengthAdjust="spacingAndGlyphs">[8]</text>
<text x="310.40" y="401.29" font-size="10.1" fill="#1d4f93" stroke="#1d4f93" text-anchor="end" textLength="44.96" lengthAdjust="spacingAndGlyphs">DDR_DM0</text>
<text x="322.80" y="394.89" font-size="10.1" fill="#262626" stroke="#262626" textLength="19.12" lengthAdjust="spacingAndGlyphs">W29</text>
<line x1="315.5" y1="396.69" x2="325.8" y2="396.69" stroke="#ff0000" stroke-width="1"/>
<line x1="325.8" y1="396.69" x2="491.3" y2="396.69" stroke="#800040" stroke-width="1"/>
<polyline points="490.5,391.82 495.8,396.69 490.5,401.56" class="pt"/>
<polyline points="495.5,391.82 501,396.69 495.5,401.56" class="pt"/>
<text x="511.60" y="400.19" font-size="10.1" fill="#ff2020" stroke="#ff2020" textLength="44.96" lengthAdjust="spacingAndGlyphs">DDR_DM0</text>
<text x="592.30" y="400.19" font-size="10.1" fill="#ff2020" stroke="#ff2020" textLength="15.51" lengthAdjust="spacingAndGlyphs">[12]</text>
<text x="310.40" y="411.62" font-size="10.1" fill="#1d4f93" stroke="#1d4f93" text-anchor="end" textLength="44.96" lengthAdjust="spacingAndGlyphs">DDR_DM1</text>
<text x="322.80" y="405.22" font-size="10.1" fill="#262626" stroke="#262626" textLength="23.26" lengthAdjust="spacingAndGlyphs">AC29</text>
<line x1="315.5" y1="407.02" x2="325.8" y2="407.02" stroke="#ff0000" stroke-width="1"/>
<line x1="325.8" y1="407.02" x2="491.3" y2="407.02" stroke="#800040" stroke-width="1"/>
<polyline points="490.5,402.16 495.8,407.02 490.5,411.89" class="pt"/>
<polyline points="495.5,402.16 501,407.02 495.5,411.89" class="pt"/>
<text x="511.60" y="410.52" font-size="10.1" fill="#ff2020" stroke="#ff2020" textLength="44.96" lengthAdjust="spacingAndGlyphs">DDR_DM1</text>
<text x="592.30" y="410.52" font-size="10.1" fill="#ff2020" stroke="#ff2020" textLength="15.51" lengthAdjust="spacingAndGlyphs">[12]</text>
<text x="310.40" y="432.28" font-size="10.1" fill="#1d4f93" stroke="#1d4f93" text-anchor="end" textLength="62.02" lengthAdjust="spacingAndGlyphs">DDR_DQS0_P</text>
<text x="322.80" y="425.88" font-size="10.1" fill="#262626" stroke="#262626" textLength="22.75" lengthAdjust="spacingAndGlyphs">AA29</text>
<line x1="315.5" y1="427.68" x2="325.8" y2="427.68" stroke="#ff0000" stroke-width="1"/>
<line x1="325.8" y1="427.68" x2="481" y2="427.68" stroke="#800040" stroke-width="1"/>
<polyline points="484.7,423.23 481,427.68 484.7,432.13" class="pt"/>
<line x1="481" y1="427.68" x2="495.7" y2="427.68" class="pt"/>
<polygon points="486.3,427.68 489.4,423.23 492.4,423.23 495.7,427.68 492.4,432.13 489.4,432.13" class="pt"/>
<polyline points="496.3,423.23 501.2,427.68 496.3,432.13" class="pt"/>
<text x="511.60" y="431.18" font-size="10.1" fill="#ff2020" stroke="#ff2020" textLength="62.02" lengthAdjust="spacingAndGlyphs">DDR_DQS0_P</text>
<text x="592.30" y="431.18" font-size="10.1" fill="#ff2020" stroke="#ff2020" textLength="15.51" lengthAdjust="spacingAndGlyphs">[12]</text>
<text x="310.40" y="442.61" font-size="10.1" fill="#1d4f93" stroke="#1d4f93" text-anchor="end" textLength="62.53" lengthAdjust="spacingAndGlyphs">DDR_DQS0_N</text>
<text x="322.80" y="436.21" font-size="10.1" fill="#262626" stroke="#262626" textLength="16.55" lengthAdjust="spacingAndGlyphs">Y28</text>
<line x1="315.5" y1="438.01" x2="325.8" y2="438.01" stroke="#ff0000" stroke-width="1"/>
<line x1="325.8" y1="438.01" x2="481" y2="438.01" stroke="#800040" stroke-width="1"/>
<polyline points="484.7,433.56 481,438.01 484.7,442.46" class="pt"/>
<line x1="481" y1="438.01" x2="495.7" y2="438.01" class="pt"/>
<polygon points="486.3,438.01 489.4,433.56 492.4,433.56 495.7,438.01 492.4,442.46 489.4,442.46" class="pt"/>
<polyline points="496.3,433.56 501.2,438.01 496.3,442.46" class="pt"/>
<text x="511.60" y="441.51" font-size="10.1" fill="#ff2020" stroke="#ff2020" textLength="62.53" lengthAdjust="spacingAndGlyphs">DDR_DQS0_N</text>
<text x="592.30" y="441.51" font-size="10.1" fill="#ff2020" stroke="#ff2020" textLength="15.51" lengthAdjust="spacingAndGlyphs">[12]</text>
<text x="310.40" y="452.94" font-size="10.1" fill="#1d4f93" stroke="#1d4f93" text-anchor="end" textLength="62.02" lengthAdjust="spacingAndGlyphs">DDR_DQS1_P</text>
<text x="322.80" y="446.54" font-size="10.1" fill="#262626" stroke="#262626" textLength="23.26" lengthAdjust="spacingAndGlyphs">AC26</text>
<line x1="315.5" y1="448.34" x2="325.8" y2="448.34" stroke="#ff0000" stroke-width="1"/>
<line x1="325.8" y1="448.34" x2="481" y2="448.34" stroke="#800040" stroke-width="1"/>
<polyline points="484.7,443.89 481,448.34 484.7,452.79" class="pt"/>
<line x1="481" y1="448.34" x2="495.7" y2="448.34" class="pt"/>
<polygon points="486.3,448.34 489.4,443.89 492.4,443.89 495.7,448.34 492.4,452.79 489.4,452.79" class="pt"/>
<polyline points="496.3,443.89 501.2,448.34 496.3,452.79" class="pt"/>
<text x="511.60" y="451.84" font-size="10.1" fill="#ff2020" stroke="#ff2020" textLength="62.02" lengthAdjust="spacingAndGlyphs">DDR_DQS1_P</text>
<text x="592.30" y="451.84" font-size="10.1" fill="#ff2020" stroke="#ff2020" textLength="15.51" lengthAdjust="spacingAndGlyphs">[12]</text>
<text x="310.40" y="463.27" font-size="10.1" fill="#1d4f93" stroke="#1d4f93" text-anchor="end" textLength="62.53" lengthAdjust="spacingAndGlyphs">DDR_DQS1_N</text>
<text x="322.80" y="456.87" font-size="10.1" fill="#262626" stroke="#262626" textLength="23.26" lengthAdjust="spacingAndGlyphs">AC27</text>
<line x1="315.5" y1="458.67" x2="325.8" y2="458.67" stroke="#ff0000" stroke-width="1"/>
<line x1="325.8" y1="458.67" x2="481" y2="458.67" stroke="#800040" stroke-width="1"/>
<polyline points="484.7,454.22 481,458.67 484.7,463.12" class="pt"/>
<line x1="481" y1="458.67" x2="495.7" y2="458.67" class="pt"/>
<polygon points="486.3,458.67 489.4,454.22 492.4,454.22 495.7,458.67 492.4,463.12 489.4,463.12" class="pt"/>
<polyline points="496.3,454.22 501.2,458.67 496.3,463.12" class="pt"/>
<text x="511.60" y="462.17" font-size="10.1" fill="#ff2020" stroke="#ff2020" textLength="62.53" lengthAdjust="spacingAndGlyphs">DDR_DQS1_N</text>
<text x="592.30" y="462.17" font-size="10.1" fill="#ff2020" stroke="#ff2020" textLength="15.51" lengthAdjust="spacingAndGlyphs">[12]</text>
<text x="310.40" y="483.93" font-size="10.1" fill="#1d4f93" stroke="#1d4f93" text-anchor="end" textLength="44.44" lengthAdjust="spacingAndGlyphs">DDR_DQ0</text>
<text x="322.80" y="477.53" font-size="10.1" fill="#262626" stroke="#262626" textLength="16.55" lengthAdjust="spacingAndGlyphs">V28</text>
<line x1="315.5" y1="479.33" x2="325.8" y2="479.33" stroke="#ff0000" stroke-width="1"/>
<line x1="325.8" y1="479.33" x2="481" y2="479.33" stroke="#800040" stroke-width="1"/>
<polyline points="484.7,474.88 481,479.33 484.7,483.78" class="pt"/>
<line x1="481" y1="479.33" x2="495.7" y2="479.33" class="pt"/>
<polygon points="486.3,479.33 489.4,474.88 492.4,474.88 495.7,479.33 492.4,483.78 489.4,483.78" class="pt"/>
<polyline points="496.3,474.88 501.2,479.33 496.3,483.78" class="pt"/>
<text x="511.60" y="482.83" font-size="10.1" fill="#ff2020" stroke="#ff2020" textLength="44.44" lengthAdjust="spacingAndGlyphs">DDR_DQ5</text>
<text x="592.30" y="482.83" font-size="10.1" fill="#ff2020" stroke="#ff2020" textLength="15.51" lengthAdjust="spacingAndGlyphs">[12]</text>
<text x="310.40" y="494.26" font-size="10.1" fill="#1d4f93" stroke="#1d4f93" text-anchor="end" textLength="44.44" lengthAdjust="spacingAndGlyphs">DDR_DQ1</text>
<text x="322.80" y="487.86" font-size="10.1" fill="#262626" stroke="#262626" textLength="22.75" lengthAdjust="spacingAndGlyphs">AB29</text>
<line x1="315.5" y1="489.66" x2="325.8" y2="489.66" stroke="#ff0000" stroke-width="1"/>
<line x1="325.8" y1="489.66" x2="481" y2="489.66" stroke="#800040" stroke-width="1"/>
<polyline points="484.7,485.21 481,489.66 484.7,494.11" class="pt"/>
<line x1="481" y1="489.66" x2="495.7" y2="489.66" class="pt"/>
<polygon points="486.3,489.66 489.4,485.21 492.4,485.21 495.7,489.66 492.4,494.11 489.4,494.11" class="pt"/>
<polyline points="496.3,485.21 501.2,489.66 496.3,494.11" class="pt"/>
<text x="511.60" y="493.16" font-size="10.1" fill="#ff2020" stroke="#ff2020" textLength="44.44" lengthAdjust="spacingAndGlyphs">DDR_DQ0</text>
<text x="592.30" y="493.16" font-size="10.1" fill="#ff2020" stroke="#ff2020" textLength="15.51" lengthAdjust="spacingAndGlyphs">[12]</text>
<text x="310.40" y="504.59" font-size="10.1" fill="#1d4f93" stroke="#1d4f93" text-anchor="end" textLength="44.44" lengthAdjust="spacingAndGlyphs">DDR_DQ2</text>
<text x="322.80" y="498.19" font-size="10.1" fill="#262626" stroke="#262626" textLength="17.06" lengthAdjust="spacingAndGlyphs">U28</text>
<line x1="315.5" y1="499.99" x2="325.8" y2="499.99" stroke="#ff0000" stroke-width="1"/>
<line x1="325.8" y1="499.99" x2="481" y2="499.99" stroke="#800040" stroke-width="1"/>
<polyline points="484.7,495.54 481,499.99 484.7,504.44" class="pt"/>
<line x1="481" y1="499.99" x2="495.7" y2="499.99" class="pt"/>
<polygon points="486.3,499.99 489.4,495.54 492.4,495.54 495.7,499.99 492.4,504.44 489.4,504.44" class="pt"/>
<polyline points="496.3,495.54 501.2,499.99 496.3,504.44" class="pt"/>
<text x="511.60" y="503.49" font-size="10.1" fill="#ff2020" stroke="#ff2020" textLength="44.44" lengthAdjust="spacingAndGlyphs">DDR_DQ7</text>
<text x="592.30" y="503.49" font-size="10.1" fill="#ff2020" stroke="#ff2020" textLength="15.51" lengthAdjust="spacingAndGlyphs">[12]</text>
<text x="310.40" y="514.92" font-size="10.1" fill="#1d4f93" stroke="#1d4f93" text-anchor="end" textLength="44.44" lengthAdjust="spacingAndGlyphs">DDR_DQ3</text>
<text x="322.80" y="508.52" font-size="10.1" fill="#262626" stroke="#262626" textLength="22.75" lengthAdjust="spacingAndGlyphs">AB28</text>
<line x1="315.5" y1="510.32" x2="325.8" y2="510.32" stroke="#ff0000" stroke-width="1"/>
<line x1="325.8" y1="510.32" x2="481" y2="510.32" stroke="#800040" stroke-width="1"/>
<polyline points="484.7,505.87 481,510.32 484.7,514.77" class="pt"/>
<line x1="481" y1="510.32" x2="495.7" y2="510.32" class="pt"/>
<polygon points="486.3,510.32 489.4,505.87 492.4,505.87 495.7,510.32 492.4,514.77 489.4,514.77" class="pt"/>
<polyline points="496.3,505.87 501.2,510.32 496.3,514.77" class="pt"/>
<text x="511.60" y="513.82" font-size="10.1" fill="#ff2020" stroke="#ff2020" textLength="44.44" lengthAdjust="spacingAndGlyphs">DDR_DQ4</text>
<text x="592.30" y="513.82" font-size="10.1" fill="#ff2020" stroke="#ff2020" textLength="15.51" lengthAdjust="spacingAndGlyphs">[12]</text>
<text x="310.40" y="525.25" font-size="10.1" fill="#1d4f93" stroke="#1d4f93" text-anchor="end" textLength="44.44" lengthAdjust="spacingAndGlyphs">DDR_DQ4</text>
<text x="322.80" y="518.85" font-size="10.1" fill="#262626" stroke="#262626" textLength="16.55" lengthAdjust="spacingAndGlyphs">V27</text>
<line x1="315.5" y1="520.65" x2="325.8" y2="520.65" stroke="#ff0000" stroke-width="1"/>
<line x1="325.8" y1="520.65" x2="481" y2="520.65" stroke="#800040" stroke-width="1"/>
<polyline points="484.7,516.20 481,520.65 484.7,525.10" class="pt"/>
<line x1="481" y1="520.65" x2="495.7" y2="520.65" class="pt"/>
<polygon points="486.3,520.65 489.4,516.20 492.4,516.20 495.7,520.65 492.4,525.10 489.4,525.10" class="pt"/>
<polyline points="496.3,516.20 501.2,520.65 496.3,525.10" class="pt"/>
<text x="511.60" y="524.15" font-size="10.1" fill="#ff2020" stroke="#ff2020" textLength="44.44" lengthAdjust="spacingAndGlyphs">DDR_DQ2</text>
<text x="592.30" y="524.15" font-size="10.1" fill="#ff2020" stroke="#ff2020" textLength="15.51" lengthAdjust="spacingAndGlyphs">[12]</text>
<text x="310.40" y="535.58" font-size="10.1" fill="#1d4f93" stroke="#1d4f93" text-anchor="end" textLength="44.44" lengthAdjust="spacingAndGlyphs">DDR_DQ5</text>
<text x="322.80" y="529.18" font-size="10.1" fill="#262626" stroke="#262626" textLength="19.12" lengthAdjust="spacingAndGlyphs">W28</text>
<line x1="315.5" y1="530.98" x2="325.8" y2="530.98" stroke="#ff0000" stroke-width="1"/>
<line x1="325.8" y1="530.98" x2="481" y2="530.98" stroke="#800040" stroke-width="1"/>
<polyline points="484.7,526.53 481,530.98 484.7,535.43" class="pt"/>
<line x1="481" y1="530.98" x2="495.7" y2="530.98" class="pt"/>
<polygon points="486.3,530.98 489.4,526.53 492.4,526.53 495.7,530.98 492.4,535.43 489.4,535.43" class="pt"/>
<polyline points="496.3,526.53 501.2,530.98 496.3,535.43" class="pt"/>
<text x="511.60" y="534.48" font-size="10.1" fill="#ff2020" stroke="#ff2020" textLength="44.44" lengthAdjust="spacingAndGlyphs">DDR_DQ1</text>
<text x="592.30" y="534.48" font-size="10.1" fill="#ff2020" stroke="#ff2020" textLength="15.51" lengthAdjust="spacingAndGlyphs">[12]</text>
<text x="310.40" y="545.91" font-size="10.1" fill="#1d4f93" stroke="#1d4f93" text-anchor="end" textLength="44.44" lengthAdjust="spacingAndGlyphs">DDR_DQ6</text>
<text x="322.80" y="539.51" font-size="10.1" fill="#262626" stroke="#262626" textLength="17.06" lengthAdjust="spacingAndGlyphs">U27</text>
<line x1="315.5" y1="541.31" x2="325.8" y2="541.31" stroke="#ff0000" stroke-width="1"/>
<line x1="325.8" y1="541.31" x2="481" y2="541.31" stroke="#800040" stroke-width="1"/>
<polyline points="484.7,536.86 481,541.31 484.7,545.76" class="pt"/>
<line x1="481" y1="541.31" x2="495.7" y2="541.31" class="pt"/>
<polygon points="486.3,541.31 489.4,536.86 492.4,536.86 495.7,541.31 492.4,545.76 489.4,545.76" class="pt"/>
<polyline points="496.3,536.86 501.2,541.31 496.3,545.76" class="pt"/>
<text x="511.60" y="544.81" font-size="10.1" fill="#ff2020" stroke="#ff2020" textLength="44.44" lengthAdjust="spacingAndGlyphs">DDR_DQ3</text>
<text x="592.30" y="544.81" font-size="10.1" fill="#ff2020" stroke="#ff2020" textLength="15.51" lengthAdjust="spacingAndGlyphs">[12]</text>
<text x="310.40" y="556.24" font-size="10.1" fill="#1d4f93" stroke="#1d4f93" text-anchor="end" textLength="44.44" lengthAdjust="spacingAndGlyphs">DDR_DQ7</text>
<text x="322.80" y="549.84" font-size="10.1" fill="#262626" stroke="#262626" textLength="16.55" lengthAdjust="spacingAndGlyphs">V29</text>
<line x1="315.5" y1="551.64" x2="325.8" y2="551.64" stroke="#ff0000" stroke-width="1"/>
<line x1="325.8" y1="551.64" x2="481" y2="551.64" stroke="#800040" stroke-width="1"/>
<polyline points="484.7,547.19 481,551.64 484.7,556.09" class="pt"/>
<line x1="481" y1="551.64" x2="495.7" y2="551.64" class="pt"/>
<polygon points="486.3,551.64 489.4,547.19 492.4,547.19 495.7,551.64 492.4,556.09 489.4,556.09" class="pt"/>
<polyline points="496.3,547.19 501.2,551.64 496.3,556.09" class="pt"/>
<text x="511.60" y="555.14" font-size="10.1" fill="#ff2020" stroke="#ff2020" textLength="44.44" lengthAdjust="spacingAndGlyphs">DDR_DQ6</text>
<text x="592.30" y="555.14" font-size="10.1" fill="#ff2020" stroke="#ff2020" textLength="15.51" lengthAdjust="spacingAndGlyphs">[12]</text>
<text x="310.40" y="566.57" font-size="10.1" fill="#1d4f93" stroke="#1d4f93" text-anchor="end" textLength="44.44" lengthAdjust="spacingAndGlyphs">DDR_DQ8</text>
<text x="322.80" y="560.17" font-size="10.1" fill="#262626" stroke="#262626" textLength="22.23" lengthAdjust="spacingAndGlyphs">AF28</text>
<line x1="315.5" y1="561.97" x2="325.8" y2="561.97" stroke="#ff0000" stroke-width="1"/>
<line x1="325.8" y1="561.97" x2="481" y2="561.97" stroke="#800040" stroke-width="1"/>
<polyline points="484.7,557.52 481,561.97 484.7,566.42" class="pt"/>
<line x1="481" y1="561.97" x2="495.7" y2="561.97" class="pt"/>
<polygon points="486.3,561.97 489.4,557.52 492.4,557.52 495.7,561.97 492.4,566.42 489.4,566.42" class="pt"/>
<polyline points="496.3,557.52 501.2,561.97 496.3,566.42" class="pt"/>
<text x="511.60" y="565.47" font-size="10.1" fill="#ff2020" stroke="#ff2020" textLength="44.44" lengthAdjust="spacingAndGlyphs">DDR_DQ9</text>
<text x="592.30" y="565.47" font-size="10.1" fill="#ff2020" stroke="#ff2020" textLength="15.51" lengthAdjust="spacingAndGlyphs">[12]</text>
<text x="310.40" y="576.90" font-size="10.1" fill="#1d4f93" stroke="#1d4f93" text-anchor="end" textLength="44.44" lengthAdjust="spacingAndGlyphs">DDR_DQ9</text>
<text x="322.80" y="570.50" font-size="10.1" fill="#262626" stroke="#262626" textLength="23.26" lengthAdjust="spacingAndGlyphs">AD29</text>
<line x1="315.5" y1="572.30" x2="325.8" y2="572.30" stroke="#ff0000" stroke-width="1"/>
<line x1="325.8" y1="572.30" x2="481" y2="572.30" stroke="#800040" stroke-width="1"/>
<polyline points="484.7,567.85 481,572.30 484.7,576.75" class="pt"/>
<line x1="481" y1="572.30" x2="495.7" y2="572.30" class="pt"/>
<polygon points="486.3,572.30 489.4,567.85 492.4,567.85 495.7,572.30 492.4,576.75 489.4,576.75" class="pt"/>
<polyline points="496.3,567.85 501.2,572.30 496.3,576.75" class="pt"/>
<text x="511.60" y="575.80" font-size="10.1" fill="#ff2020" stroke="#ff2020" textLength="49.62" lengthAdjust="spacingAndGlyphs">DDR_DQ14</text>
<text x="592.30" y="575.80" font-size="10.1" fill="#ff2020" stroke="#ff2020" textLength="15.51" lengthAdjust="spacingAndGlyphs">[12]</text>
<text x="310.40" y="587.23" font-size="10.1" fill="#1d4f93" stroke="#1d4f93" text-anchor="end" textLength="49.62" lengthAdjust="spacingAndGlyphs">DDR_DQ10</text>
<text x="322.80" y="580.83" font-size="10.1" fill="#262626" stroke="#262626" textLength="23.26" lengthAdjust="spacingAndGlyphs">AC28</text>
<line x1="315.5" y1="582.63" x2="325.8" y2="582.63" stroke="#ff0000" stroke-width="1"/>
<line x1="325.8" y1="582.63" x2="481" y2="582.63" stroke="#800040" stroke-width="1"/>
<polyline points="484.7,578.18 481,582.63 484.7,587.08" class="pt"/>
<line x1="481" y1="582.63" x2="495.7" y2="582.63" class="pt"/>
<polygon points="486.3,582.63 489.4,578.18 492.4,578.18 495.7,582.63 492.4,587.08 489.4,587.08" class="pt"/>
<polyline points="496.3,578.18 501.2,582.63 496.3,587.08" class="pt"/>
<text x="511.60" y="586.13" font-size="10.1" fill="#ff2020" stroke="#ff2020" textLength="49.62" lengthAdjust="spacingAndGlyphs">DDR_DQ15</text>
<text x="592.30" y="586.13" font-size="10.1" fill="#ff2020" stroke="#ff2020" textLength="15.51" lengthAdjust="spacingAndGlyphs">[12]</text>
<text x="310.40" y="597.56" font-size="10.1" fill="#1d4f93" stroke="#1d4f93" text-anchor="end" textLength="49.62" lengthAdjust="spacingAndGlyphs">DDR_DQ11</text>
<text x="322.80" y="591.16" font-size="10.1" fill="#262626" stroke="#262626" textLength="22.75" lengthAdjust="spacingAndGlyphs">AE29</text>
<line x1="315.5" y1="592.96" x2="325.8" y2="592.96" stroke="#ff0000" stroke-width="1"/>
<line x1="325.8" y1="592.96" x2="481" y2="592.96" stroke="#800040" stroke-width="1"/>
<polyline points="484.7,588.51 481,592.96 484.7,597.41" class="pt"/>
<line x1="481" y1="592.96" x2="495.7" y2="592.96" class="pt"/>
<polygon points="486.3,592.96 489.4,588.51 492.4,588.51 495.7,592.96 492.4,597.41 489.4,597.41" class="pt"/>
<polyline points="496.3,588.51 501.2,592.96 496.3,597.41" class="pt"/>
<text x="511.60" y="596.46" font-size="10.1" fill="#ff2020" stroke="#ff2020" textLength="49.62" lengthAdjust="spacingAndGlyphs">DDR_DQ12</text>
<text x="592.30" y="596.46" font-size="10.1" fill="#ff2020" stroke="#ff2020" textLength="15.51" lengthAdjust="spacingAndGlyphs">[12]</text>
<text x="310.40" y="607.89" font-size="10.1" fill="#1d4f93" stroke="#1d4f93" text-anchor="end" textLength="49.62" lengthAdjust="spacingAndGlyphs">DDR_DQ12</text>
<text x="322.80" y="601.49" font-size="10.1" fill="#262626" stroke="#262626" textLength="23.26" lengthAdjust="spacingAndGlyphs">AH29</text>
<line x1="315.5" y1="603.29" x2="325.8" y2="603.29" stroke="#ff0000" stroke-width="1"/>
<line x1="325.8" y1="603.29" x2="481" y2="603.29" stroke="#800040" stroke-width="1"/>
<polyline points="484.7,598.84 481,603.29 484.7,607.74" class="pt"/>
<line x1="481" y1="603.29" x2="495.7" y2="603.29" class="pt"/>
<polygon points="486.3,603.29 489.4,598.84 492.4,598.84 495.7,603.29 492.4,607.74 489.4,607.74" class="pt"/>
<polyline points="496.3,598.84 501.2,603.29 496.3,607.74" class="pt"/>
<text x="511.60" y="606.79" font-size="10.1" fill="#ff2020" stroke="#ff2020" textLength="44.44" lengthAdjust="spacingAndGlyphs">DDR_DQ8</text>
<text x="592.30" y="606.79" font-size="10.1" fill="#ff2020" stroke="#ff2020" textLength="15.51" lengthAdjust="spacingAndGlyphs">[12]</text>
<text x="310.40" y="618.22" font-size="10.1" fill="#1d4f93" stroke="#1d4f93" text-anchor="end" textLength="49.62" lengthAdjust="spacingAndGlyphs">DDR_DQ13</text>
<text x="322.80" y="611.82" font-size="10.1" fill="#262626" stroke="#262626" textLength="22.75" lengthAdjust="spacingAndGlyphs">AE28</text>
<line x1="315.5" y1="613.62" x2="325.8" y2="613.62" stroke="#ff0000" stroke-width="1"/>
<line x1="325.8" y1="613.62" x2="481" y2="613.62" stroke="#800040" stroke-width="1"/>
<polyline points="484.7,609.17 481,613.62 484.7,618.07" class="pt"/>
<line x1="481" y1="613.62" x2="495.7" y2="613.62" class="pt"/>
<polygon points="486.3,613.62 489.4,609.17 492.4,609.17 495.7,613.62 492.4,618.07 489.4,618.07" class="pt"/>
<polyline points="496.3,609.17 501.2,613.62 496.3,618.07" class="pt"/>
<text x="511.60" y="617.12" font-size="10.1" fill="#ff2020" stroke="#ff2020" textLength="49.62" lengthAdjust="spacingAndGlyphs">DDR_DQ13</text>
<text x="592.30" y="617.12" font-size="10.1" fill="#ff2020" stroke="#ff2020" textLength="15.51" lengthAdjust="spacingAndGlyphs">[12]</text>
<text x="310.40" y="628.55" font-size="10.1" fill="#1d4f93" stroke="#1d4f93" text-anchor="end" textLength="49.62" lengthAdjust="spacingAndGlyphs">DDR_DQ14</text>
<text x="322.80" y="622.15" font-size="10.1" fill="#262626" stroke="#262626" textLength="22.23" lengthAdjust="spacingAndGlyphs">AF29</text>
<line x1="315.5" y1="623.95" x2="325.8" y2="623.95" stroke="#ff0000" stroke-width="1"/>
<line x1="325.8" y1="623.95" x2="481" y2="623.95" stroke="#800040" stroke-width="1"/>
<polyline points="484.7,619.50 481,623.95 484.7,628.40" class="pt"/>
<line x1="481" y1="623.95" x2="495.7" y2="623.95" class="pt"/>
<polygon points="486.3,623.95 489.4,619.50 492.4,619.50 495.7,623.95 492.4,628.40 489.4,628.40" class="pt"/>
<polyline points="496.3,619.50 501.2,623.95 496.3,628.40" class="pt"/>
<text x="511.60" y="627.45" font-size="10.1" fill="#ff2020" stroke="#ff2020" textLength="49.62" lengthAdjust="spacingAndGlyphs">DDR_DQ11</text>
<text x="592.30" y="627.45" font-size="10.1" fill="#ff2020" stroke="#ff2020" textLength="15.51" lengthAdjust="spacingAndGlyphs">[12]</text>
<text x="310.40" y="638.88" font-size="10.1" fill="#1d4f93" stroke="#1d4f93" text-anchor="end" textLength="49.62" lengthAdjust="spacingAndGlyphs">DDR_DQ15</text>
<text x="322.80" y="632.48" font-size="10.1" fill="#262626" stroke="#262626" textLength="23.78" lengthAdjust="spacingAndGlyphs">AG29</text>
<line x1="315.5" y1="634.28" x2="325.8" y2="634.28" stroke="#ff0000" stroke-width="1"/>
<line x1="325.8" y1="634.28" x2="481" y2="634.28" stroke="#800040" stroke-width="1"/>
<polyline points="484.7,629.83 481,634.28 484.7,638.73" class="pt"/>
<line x1="481" y1="634.28" x2="495.7" y2="634.28" class="pt"/>
<polygon points="486.3,634.28 489.4,629.83 492.4,629.83 495.7,634.28 492.4,638.73 489.4,638.73" class="pt"/>
<polyline points="496.3,629.83 501.2,634.28 496.3,638.73" class="pt"/>
<text x="511.60" y="637.78" font-size="10.1" fill="#ff2020" stroke="#ff2020" textLength="49.62" lengthAdjust="spacingAndGlyphs">DDR_DQ10</text>
<text x="592.30" y="637.78" font-size="10.1" fill="#ff2020" stroke="#ff2020" textLength="15.51" lengthAdjust="spacingAndGlyphs">[12]</text>
<text x="310.40" y="659.54" font-size="10.1" fill="#1d4f93" stroke="#1d4f93" text-anchor="end" textLength="50.12" lengthAdjust="spacingAndGlyphs">DDR_ODT0</text>
<text x="322.80" y="653.14" font-size="10.1" fill="#262626" stroke="#262626" textLength="17.06" lengthAdjust="spacingAndGlyphs">N29</text>
<line x1="315.5" y1="654.94" x2="325.8" y2="654.94" stroke="#ff0000" stroke-width="1"/>
<text x="367.1" y="653.54" class="nc" fill="#111" stroke="#111" stroke-width="0.22" textLength="46.3" lengthAdjust="spacingAndGlyphs">Not Connected</text>
<text x="310.40" y="669.87" font-size="10.1" fill="#1d4f93" stroke="#1d4f93" text-anchor="end" textLength="50.12" lengthAdjust="spacingAndGlyphs">DDR_ODT1</text>
<text x="322.80" y="663.47" font-size="10.1" fill="#262626" stroke="#262626" textLength="17.06" lengthAdjust="spacingAndGlyphs">N27</text>
<line x1="315.5" y1="665.27" x2="325.8" y2="665.27" stroke="#ff0000" stroke-width="1"/>
<line x1="325.8" y1="665.27" x2="491.3" y2="665.27" stroke="#800040" stroke-width="1"/>
<polyline points="490.5,660.40 495.8,665.27 490.5,670.13" class="pt"/>
<polyline points="495.5,660.40 501,665.27 495.5,670.13" class="pt"/>
<text x="511.60" y="668.77" font-size="10.1" fill="#ff2020" stroke="#ff2020" textLength="55.30" lengthAdjust="spacingAndGlyphs">DDR_CS0_N</text>
<text x="592.30" y="668.77" font-size="10.1" fill="#ff2020" stroke="#ff2020" textLength="15.51" lengthAdjust="spacingAndGlyphs">[12]</text>
<text x="310.40" y="690.53" font-size="10.1" fill="#1d4f93" stroke="#1d4f93" text-anchor="end" textLength="87.33" lengthAdjust="spacingAndGlyphs">DDR_CALIBRATION</text>
<text x="322.80" y="684.13" font-size="10.1" fill="#262626" stroke="#262626" textLength="17.06" lengthAdjust="spacingAndGlyphs">C29</text>
<line x1="315.5" y1="685.93" x2="325.8" y2="685.93" stroke="#ff0000" stroke-width="1"/>
<line x1="325.8" y1="685.93" x2="367.8" y2="685.93" stroke="#800040" stroke-width="1"/>
<line x1="367.8" y1="685.93" x2="378.1" y2="685.93" stroke="#ff0000" stroke-width="1"/>
<polyline points="378.1,685.93 381.5,685.93 382.4,682.53 384.3,688.53 386.6,682.53 388.4,688.53 390.5,682.53 392.5,688.53 393.8,685.93 397.8,685.93" fill="none" stroke="#0000ff" stroke-width="1" stroke-linejoin="round"/>
<line x1="397.8" y1="685.93" x2="407.8" y2="685.93" stroke="#ff0000" stroke-width="1"/>
<path d="M407.8 685.93 H439.5 V706.7" fill="none" stroke="#800040" stroke-width="1"/>
<line x1="428.9" y1="706.7" x2="450.1" y2="706.7" stroke="#ff0000" stroke-width="1"/>
<line x1="431.3" y1="709.6" x2="446.7" y2="709.6" stroke="#ff0000" stroke-width="1"/>
<line x1="433.2" y1="712.4" x2="444.8" y2="712.4" stroke="#ff0000" stroke-width="1"/>
<line x1="436.3" y1="716.2" x2="441.8" y2="716.2" stroke="#ff0000" stroke-width="1"/>
<text x="367.20" y="683.63" font-size="10.1" fill="#22227a" stroke="#22227a" textLength="15.52" lengthAdjust="spacingAndGlyphs">240</text>
<text x="398.20" y="683.63" font-size="10.1" fill="#22227a" stroke="#22227a" textLength="27.41" lengthAdjust="spacingAndGlyphs">R_105</text>
<rect x="130.0" y="45.5" width="185.5" height="651.0" fill="none" stroke="#0000ff" stroke-width="1"/>
<rect x="651" y="0" width="1" height="727" fill="#000"/>
</svg>
</body></html>
